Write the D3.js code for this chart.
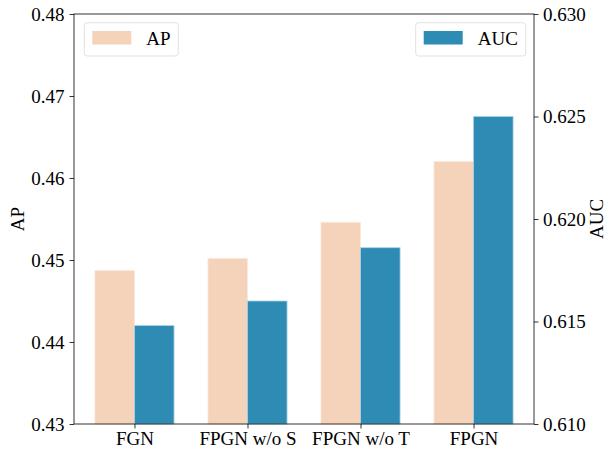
<!DOCTYPE html>
<html><head><meta charset="utf-8">
<script src="https://cdn.jsdelivr.net/npm/d3@7"></script>
<style>body{margin:0;background:#fff;} text{font-family:"Liberation Serif","Times New Roman",serif;}</style>
</head><body>
<svg id="c" width="608" height="451"></svg>
<script>
const categories = ["FGN", "FPGN w/o S", "FPGN w/o T", "FPGN"];
const apValues = [0.4487, 0.4502, 0.4546, 0.4620];
const aucValues = [0.6148, 0.6160, 0.6186, 0.6250];
const apTicks = [0.43, 0.44, 0.45, 0.46, 0.47, 0.48];
const aucTicks = [0.610, 0.615, 0.620, 0.625, 0.630];

const svg = d3.select("#c");
const L = 74, R = 534, T = 14, B = 424;
const barW = 0.35;
const FS = 19;
const x = d3.scaleLinear().domain([-0.535, 3.535]).range([L, R]);
const yL = d3.scaleLinear().domain([0.43, 0.48]).range([B, T]);
const yR = d3.scaleLinear().domain([0.610, 0.630]).range([B, T]);
const apColor = "#F4D3BA", aucColor = "#2E8BB3";

svg.append("g").selectAll("rect").data(apValues).join("rect")
  .attr("x", (d,i) => x(i - barW)).attr("width", x(barW) - x(0))
  .attr("y", d => yL(d)).attr("height", d => B - yL(d))
  .attr("fill", apColor).attr("stroke", "#fbe9dc").attr("stroke-width", 0.8);
svg.append("g").selectAll("rect").data(aucValues).join("rect")
  .attr("x", (d,i) => x(i)).attr("width", x(barW) - x(0))
  .attr("y", d => yR(d)).attr("height", d => B - yR(d))
  .attr("fill", aucColor).attr("stroke", "#a9d3e4").attr("stroke-width", 0.8);

const fmt2 = d3.format(".2f"), fmt3 = d3.format(".3f");
const axL = svg.append("g").attr("transform", `translate(${L},0)`)
  .call(d3.axisLeft(yL).tickValues(apTicks).tickFormat(fmt2).tickSize(4.5).tickPadding(5));
const axR = svg.append("g").attr("transform", `translate(${R},0)`)
  .call(d3.axisRight(yR).tickValues(aucTicks).tickFormat(fmt3).tickSize(4.5).tickPadding(4.5));
const axB = svg.append("g").attr("transform", `translate(0,${B})`)
  .call(d3.axisBottom(x).tickValues([0,1,2,3]).tickFormat(i => categories[i]).tickSize(4.5).tickPadding(3));
[axL, axR, axB].forEach(a => {
  a.selectAll("text").attr("font-size", FS).attr("fill", "#000").style("font-family", '"Liberation Serif", serif');
  a.selectAll("line").attr("stroke", "#000").attr("stroke-width", 0.8);
  a.select(".domain").remove();
});
svg.append("rect").attr("x", L).attr("y", T).attr("width", R - L).attr("height", B - T)
  .attr("fill", "none").attr("stroke", "#000").attr("stroke-width", 0.8);

svg.append("text").attr("transform", `translate(24,${(T+B)/2}) rotate(-90)`)
  .attr("text-anchor", "middle").attr("font-size", FS).text("AP");
svg.append("text").attr("transform", `translate(603,${(T+B)/2}) rotate(-90)`)
  .attr("text-anchor", "middle").attr("font-size", FS).text("AUC");

function legend(x0, w, color, label) {
  const g = svg.append("g");
  g.append("rect").attr("x", x0).attr("y", 22.7).attr("width", w).attr("height", 33.3)
    .attr("rx", 3).attr("fill", "#fff").attr("fill-opacity", 0.8).attr("stroke", "#d9d9d9").attr("stroke-width", 0.8);
  g.append("rect").attr("x", x0 + 8).attr("y", 31).attr("width", 39).attr("height", 13.5).attr("fill", color);
  g.append("text").attr("x", x0 + 62).attr("y", 45).attr("font-size", FS).text(label);
}
legend(84.3, 94, apColor, "AP");
legend(415.7, 110, aucColor, "AUC");
</script>
</body></html>
